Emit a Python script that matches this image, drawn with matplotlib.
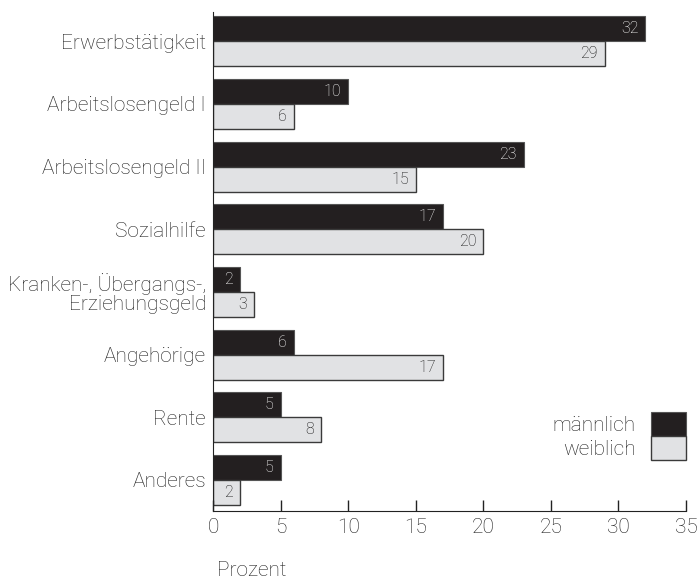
import numpy as np
import matplotlib.pyplot as plt

categories = ["Erwerbstätigkeit", "Arbeitslosengeld I", "Arbeitslosengeld II", "Sozialhilfe",
              "Kranken-, Übergangs-,\nErziehungsgeld", "Angehörige", "Rente", "Anderes"]
maennlich = [32, 10, 23, 17, 2, 6, 5, 5]
weiblich = [29, 6, 15, 20, 3, 17, 8, 2]
series_names = ["männlich", "weiblich"]

plt.rcParams['font.family'] = ['Roboto', 'DejaVu Sans']
plt.rcParams['font.weight'] = 'light'
text_col = "#1e1e1e"
dark = "#231f20"
light = "#e1e2e4"
fs = 15

fig = plt.figure(figsize=(6.99, 5.84), dpi=100)
ax = fig.add_axes([0.3047, 0.125, 0.6767, 0.854])

y = np.arange(len(categories))
h = 0.4
bars_m = ax.barh(y - h / 2, maennlich, height=h, color=dark, edgecolor="#555555", linewidth=0.8)
bars_w = ax.barh(y + h / 2, weiblich, height=h, color=light, edgecolor="#3a3a3a", linewidth=1.0)

# value labels inside the bar ends
for b, v in zip(bars_m, maennlich):
    ax.annotate(str(v), (b.get_width(), b.get_y() + b.get_height() / 2), xytext=(-5, 0),
                textcoords="offset points", ha="right", va="center", color="white",
                fontsize=11.5)
for b, v in zip(bars_w, weiblich):
    ax.annotate(str(v), (b.get_width(), b.get_y() + b.get_height() / 2), xytext=(-5, 0),
                textcoords="offset points", ha="right", va="center", color="#111111",
                fontsize=11.5)

ax.set_xlim(0, 35)
ax.set_ylim(7.495, -0.463)
ax.set_xticks(np.arange(0, 36, 5))
ax.set_yticks(y)
ax.set_yticklabels(categories, fontsize=fs, color=text_col, linespacing=0.98)
ax.tick_params(axis="y", length=0, pad=5)
ax.tick_params(axis="x", direction="in", length=8, width=1, color="#222222", labelsize=fs,
               labelcolor=text_col, pad=5)

ax.spines["top"].set_visible(False)
ax.spines["right"].set_visible(False)
ax.spines["left"].set_color("#222222")
ax.spines["bottom"].set_color("#222222")

fig.text(217 / 699, 1 - 571 / 584, "Prozent", fontsize=fs, color=text_col,
         va="center", ha="left")

leg = ax.legend([bars_m, bars_w], series_names, loc="lower right", bbox_to_anchor=(1.0, 0.102),
                frameon=False, markerfirst=False, fontsize=fs, handlelength=1.7, handleheight=1.4,
                labelspacing=0.0, handletextpad=0.7, borderaxespad=0, borderpad=0)
for t in leg.get_texts():
    t.set_color(text_col)

fig.savefig("out.png", dpi=100)
